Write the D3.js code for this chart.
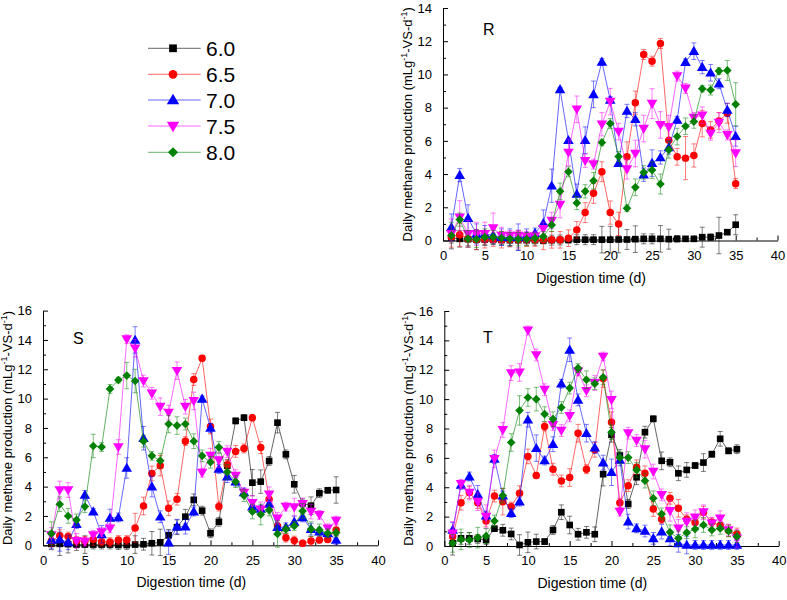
<!DOCTYPE html>
<html><head><meta charset="utf-8">
<script src="https://cdn.jsdelivr.net/npm/d3@7"></script>
<style>body{margin:0;background:#fff;} text{font-family:Arial,"Liberation Sans",sans-serif;}</style>
</head><body><svg id="c" width="787" height="600"></svg>
<script>
const days = [1,2,3,4,5,6,7,8,9,10,11,12,13,14,15,16,17,18,19,20,21,22,23,24,25,26,27,28,29,30,31,32,33,34,35];
const seriesNames = ["6.0","6.5","7.0","7.5","8.0"];
const xTicks = [0,5,10,15,20,25,30,35,40];

// Panel R
const R_60 = [0.15,0.1,0.08,0.05,0.05,0.05,0.03,0.02,0.02,0.02,0.02,0.0,0.02,0.03,0.04,0.05,0.05,0.05,0.05,0.05,0.06,0.06,0.08,0.1,0.1,0.1,0.08,0.1,0.1,0.1,0.2,0.2,0.3,0.5,0.95];
const R_65 = [0.2,0.35,0.1,0.05,0.05,0.05,0.05,0.05,0.05,0.05,0.05,0.05,0.04,0.04,0.14,0.64,1.68,2.84,4.14,1.68,1.0,5.04,8.3,11.2,10.8,11.86,6.04,5.04,4.96,5.12,7.04,6.66,7.2,7.66,3.42];
const R_70 = [0.8,3.94,1.35,0.4,0.4,0.3,0.2,0.2,0.2,0.3,0.45,1.04,3.3,9.1,6.04,2.8,6.04,8.8,10.76,8.46,4.66,7.8,7.3,3.96,4.66,5.0,5.6,7.26,10.74,11.4,10.44,10.1,9.44,7.86,6.28];
const R_75 = [0.4,1.4,0.4,0.4,0.4,0.75,0.3,0.3,0.3,0.25,0.25,0.7,1.2,2.16,5.3,7.9,4.8,4.6,7.0,8.36,6.56,4.3,5.24,6.74,8.24,6.96,6.84,9.9,9.16,7.4,7.54,6.44,7.1,6.36,5.26];
const R_80 = [0.3,1.26,0.1,0.08,0.2,0.2,0.15,0.1,0.08,0.08,0.14,0.24,0.94,2.96,4.14,2.26,2.96,3.6,5.9,7.04,5.06,1.94,3.2,4.1,4.24,3.4,5.46,6.26,6.88,7.16,9.14,9.06,10.2,10.24,8.2];
const R_60e = [0.3,0.5,0.4,0.6,0.3,0.3,0.3,0.4,0.6,0.3,0.3,0.2,0.3,0.3,0.2,0.3,0.3,0.3,0.8,0.8,0.8,0.6,0.8,0.3,0.3,0.8,0.6,0.2,0.1,0.1,0.6,0.2,1.1,0.1,0.6];
const R_65e = [0.6,0.7,0.5,0.6,0.5,0.4,0.5,0.4,0.5,0.4,0.4,0.6,0.5,0.5,0.5,0.5,0.6,0.6,0.6,0.7,0.7,0.9,0.7,0.3,0.3,0.3,0.7,0.5,1.3,0.7,0.8,0.5,0.5,0.6,0.3];
const R_70e = [0.8,0.4,0.8,0.6,0.5,0.5,0.5,0.5,0.8,0.4,0.3,0.8,1.0,0.1,0.1,0.6,0.8,0.8,0.2,0.2,0.2,0.4,0.4,0.4,0.8,0.4,0.4,0.2,0.2,0.5,0.4,0.5,0.3,0.4,0.6];
const R_75e = [0.9,1.0,0.8,0.7,0.7,0.9,0.5,0.3,0.3,0.3,0.3,0.4,0.5,0.8,0.8,0.8,0.4,0.3,0.7,0.8,0.5,0.6,0.8,0.8,0.9,0.8,0.7,0.3,0.3,0.3,0.5,0.4,0.6,0.3,0.8];
const R_80e = [0.8,0.4,0.5,0.5,0.5,0.4,0.4,0.4,0.4,0.4,0.3,0.3,0.4,0.5,0.3,0.4,0.4,0.5,0.2,0.3,0.3,0.2,0.5,0.4,0.5,0.6,0.5,0.5,0.5,0.4,0.2,0.3,0.2,0.6,1.3];

// Panel S
const S_60 = [0.1,0.1,0.08,0.05,0.05,0.05,0.05,0.05,0.02,0.02,0.05,0.07,0.14,0.2,0.68,1.23,1.95,3.1,2.36,0.82,1.6,5.43,8.48,8.7,4.27,4.34,5.75,8.36,6.2,4.16,2.86,2.7,3.55,3.75,3.77];
const S_65 = [0.3,0.66,0.6,0.3,0.3,0.4,0.25,0.22,0.36,0.36,1.18,2.68,4.9,5.43,2.52,3.14,7.1,11.3,12.75,8.1,2.64,5.5,6.4,6.6,8.7,6.66,3.14,1.32,0.52,0.32,0.14,0.3,0.36,0.4,1.05];
const S_70 = [0.36,0.4,0.2,1.45,3.43,2.3,0.75,1.86,1.9,5.27,14.0,7.3,4.0,1.95,0.18,1.27,1.27,2.3,9.98,8.0,5.2,4.68,4.34,3.6,2.64,2.48,2.82,1.23,1.23,1.6,1.9,1.1,0.93,0.82,0.36];
const S_75 = [0.7,3.77,3.77,0.3,0.25,0.7,0.9,1.16,6.7,14.05,13.43,11.2,10.36,9.45,9.05,11.9,9.45,9.84,4.95,6.11,5.8,6.39,4.75,3.6,2.9,2.45,3.48,1.84,2.64,2.6,2.82,2.3,2.07,1.16,1.68];
const S_80 = [0.8,2.8,2.0,1.73,2.64,6.77,6.7,10.66,11.27,11.57,11.2,7.1,6.1,5.77,8.27,8.16,8.27,7.1,6.1,5.66,6.68,5.0,4.34,3.39,2.3,2.1,2.4,0.77,1.1,1.32,2.34,1.1,1.05,0.82,0.86];
const S_60e = [0.4,0.8,0.6,0.4,0.6,0.3,0.3,0.3,0.3,0.3,0.6,0.4,0.8,0.9,0.4,0.5,0.5,0.4,0.3,0.3,0.3,0.4,0.2,0.2,0.9,0.8,0.3,0.7,0.3,0.6,0.3,0.6,0.3,0.2,0.9];
const S_65e = [0.4,0.4,0.3,0.3,0.3,0.4,0.3,0.3,0.3,0.3,1.0,0.6,0.5,0.7,0.5,0.4,0.3,0.4,0.2,0.5,0.3,0.3,0.4,0.3,0.2,0.4,0.4,0.4,0.3,0.3,0.2,0.3,0.2,0.2,0.4];
const S_70e = [0.6,0.8,0.5,0.3,0.3,0.2,0.6,0.6,0.3,0.7,0.9,0.8,0.7,0.4,0.8,0.5,0.5,0.3,0.2,0.3,0.3,0.4,0.3,0.3,0.3,0.2,0.3,0.3,0.3,0.4,0.3,0.4,0.3,0.3,0.3];
const S_75e = [0.5,0.6,0.5,0.5,0.3,0.3,0.3,0.3,0.5,0.3,0.6,0.4,0.4,0.6,0.5,0.6,0.5,0.6,0.3,0.5,0.5,0.4,0.4,0.3,0.5,0.5,0.5,0.4,0.3,0.6,0.4,0.5,0.3,0.3,0.3];
const S_80e = [0.8,0.5,0.5,0.4,0.4,0.8,0.3,0.3,0.2,0.9,0.8,0.4,0.3,0.5,0.6,0.6,0.4,0.5,0.4,0.4,0.4,0.5,0.4,0.4,0.5,0.7,0.4,0.9,0.3,0.3,0.5,0.5,0.4,0.3,0.3];

// Panel T
const T_60 = [0.18,0.52,0.52,0.48,0.41,1.18,1.07,0.82,0.07,0.25,0.3,0.3,1.09,2.3,1.43,0.8,0.93,0.8,4.89,7.57,6.16,2.86,4.68,7.75,8.66,5.8,5.7,4.95,5.18,5.48,5.68,6.25,7.3,6.48,6.59];
const T_65 = [0.64,2.95,3.64,2.95,1.7,3.4,3.02,2.68,3.6,6.1,4.8,8.14,5.23,4.43,4.66,7.68,5.23,6.55,11.4,8.43,2.95,4.11,5.36,4.95,2.52,1.82,3.25,2.57,1.82,1.6,2.3,1.61,1.39,1.05,0.82];
const T_70 = [1.1,4.16,4.73,3.52,2.07,5.93,3.43,2.23,3.02,8.6,6.66,5.82,6.93,11.05,13.36,9.95,7.68,6.7,5.68,5.02,5.86,1.66,1.2,1.02,0.52,0.98,0.52,0.18,0.07,0.07,0.07,0.07,0.07,0.07,0.07];
const T_75 = [0.86,4.23,3.64,3.02,2.0,5.93,7.9,11.77,11.82,14.68,13.0,10.64,8.25,7.86,8.86,11.89,10.57,11.1,12.9,9.95,2.34,7.68,7.18,6.59,5.07,3.48,2.39,1.2,1.66,1.95,2.3,1.55,1.89,1.09,0.52];
const T_80 = [0.18,0.45,0.41,0.57,0.68,1.7,3.43,7.05,9.23,10.11,10.0,8.98,8.64,9.43,10.75,12.11,11.32,11.05,11.48,7.75,6.02,6.02,5.18,4.45,3.25,2.18,0.93,0.52,0.91,1.16,1.43,1.09,1.2,1.02,0.64];
const T_60e = [0.8,0.4,0.4,0.3,0.3,0.1,0.4,0.4,0.7,0.7,0.5,0.2,0.3,0.5,0.6,0.4,0.4,0.5,0.8,0.5,0.4,0.3,0.5,0.4,0.2,0.6,0.3,0.5,0.5,0.2,0.6,0.2,0.5,0.2,0.3];
const T_65e = [0.5,0.5,0.4,0.4,0.4,0.4,0.9,0.3,0.5,0.5,0.2,0.3,0.4,0.4,0.6,0.6,0.3,0.5,0.6,0.7,0.3,0.4,0.5,0.5,0.5,0.3,0.4,0.6,0.3,0.5,0.4,0.3,0.3,0.4,0.4];
const T_70e = [0.5,0.3,0.3,0.6,0.3,0.3,0.3,0.3,0.3,0.5,0.9,0.3,0.5,0.3,0.8,0.4,0.6,0.4,0.5,0.9,0.4,0.5,0.3,0.4,0.4,0.5,0.5,0.6,0.6,0.3,0.3,0.3,0.3,0.3,0.3];
const T_75e = [0.8,0.3,0.5,0.6,0.8,0.6,0.5,0.5,0.6,0.3,0.4,0.4,0.4,0.4,0.4,0.3,0.4,0.5,0.3,0.6,0.3,0.4,0.4,0.6,0.5,0.4,0.7,0.6,0.6,0.5,0.5,0.4,0.5,0.4,0.6];
const T_80e = [0.6,0.7,0.5,0.7,0.5,0.4,0.5,0.6,1.0,0.6,0.8,0.5,0.5,0.4,0.4,0.3,0.6,0.4,0.5,0.5,0.4,0.4,0.5,0.5,0.5,0.4,0.5,0.5,0.4,0.6,0.5,0.4,0.4,0.4,0.4];

const colors = ["#000000","#ff0000","#0000ff","#ff00ff","#008000"];
const svg = d3.select("#c");

function markerPath(i, size){
  if(i===0) return d3.symbol(d3.symbolSquare, size)();
  if(i===1) return d3.symbol(d3.symbolCircle, size)();
  if(i===2) return d3.symbol(d3.symbolTriangle, size*1.1)();
  if(i===3) return d3.symbol(d3.symbolTriangle, size*1.1)();
  return d3.symbol(d3.symbolSquare, size*0.85)();
}
function markerTransform(i,x,y){
  if(i===2) return `translate(${x},${y+0.8})`;
  if(i===3) return `translate(${x},${y-0.8}) rotate(180)`;
  if(i===4) return `translate(${x},${y}) rotate(45)`;
  return `translate(${x},${y})`;
}

const panels = [
  {name:"R", x0:443, x1:777.5, yTop:8, yBot:240.5, yMax:14, lx:483, ly:35,
   vals:[R_60,R_65,R_70,R_75,R_80], errs:[R_60e,R_65e,R_70e,R_75e,R_80e]},
  {name:"S", x0:43, x1:378, yTop:310.6, yBot:545.3, yMax:16, lx:73, ly:344,
   vals:[S_60,S_65,S_70,S_75,S_80], errs:[S_60e,S_65e,S_70e,S_75e,S_80e]},
  {name:"T", x0:444.3, x1:778.7, yTop:311, yBot:546, yMax:16, lx:483, ly:343,
   vals:[T_60,T_65,T_70,T_75,T_80], errs:[T_60e,T_65e,T_70e,T_75e,T_80e]}
];

panels.forEach(p=>{
  const x = d3.scaleLinear().domain([0,40]).range([p.x0,p.x1]);
  const y = d3.scaleLinear().domain([0,p.yMax]).range([p.yBot,p.yTop]);
  const g = svg.append("g");
  const yMajor = d3.range(0,p.yMax+0.1,2);
  const yMinor = d3.range(1,p.yMax,2);
  g.append("g").attr("transform",`translate(${p.x0},0)`)
    .call(d3.axisLeft(y).tickValues(yMajor).tickSizeInner(-5).tickSizeOuter(0).tickPadding(11).tickFormat(d3.format("d")));
  g.append("g").attr("transform",`translate(${p.x0},0)`)
    .call(d3.axisLeft(y).tickValues(yMinor).tickSizeInner(-3).tickSizeOuter(0).tickFormat(""))
    .select(".domain").remove();
  g.append("g").attr("transform",`translate(0,${p.yBot})`)
    .call(d3.axisBottom(x).tickValues(xTicks).tickSizeInner(-5).tickSizeOuter(0).tickPadding(10).tickFormat(d3.format("d")));
  g.append("g").attr("transform",`translate(0,${p.yBot})`)
    .call(d3.axisBottom(x).tickValues(xTicks.slice(0,-1).map(v=>v+2.5)).tickSizeInner(-3).tickSizeOuter(0).tickFormat(""))
    .select(".domain").remove();
  g.selectAll(".domain, .tick line").attr("stroke","#000").attr("stroke-width",1);
  g.selectAll(".tick text").attr("font-size","13px").attr("font-family","Arial,'Liberation Sans',sans-serif").attr("fill","#000");

  g.append("text").attr("x",x(17.7)).attr("y",p.yBot+42).attr("text-anchor","middle")
    .attr("font-size","14px").text("Digestion time (d)");
  const yt = g.append("text").attr("transform",`translate(${p.x0-31},${(p.yTop+p.yBot)/2}) rotate(-90)`)
    .attr("text-anchor","middle").attr("font-size","13px");
  yt.append("tspan").text("Daily methane production (mLg");
  yt.append("tspan").attr("dy",-5).attr("font-size","9px").text("-1");
  yt.append("tspan").attr("dy",5).text("-VS-d");
  yt.append("tspan").attr("dy",-5).attr("font-size","9px").text("-1");
  yt.append("tspan").attr("dy",5).text(")");
  g.append("text").attr("x",p.lx).attr("y",p.ly).attr("font-size","16px").text(p.name);

  p.vals.forEach((vals,i)=>{
    const data = days.map((d,k)=>({d, v:vals[k], e:p.errs[i][k]}));
    const sg = g.append("g");
    const eb = sg.append("g").attr("stroke",colors[i]).attr("stroke-opacity",0.5).attr("stroke-width",1);
    data.forEach(o=>{
      const cx = x(o.d), y1 = y(o.v+o.e), y2 = y(o.v-o.e);
      eb.append("line").attr("x1",cx).attr("x2",cx).attr("y1",y1).attr("y2",y2);
      eb.append("line").attr("x1",cx-2.5).attr("x2",cx+2.5).attr("y1",y1).attr("y2",y1);
      eb.append("line").attr("x1",cx-2.5).attr("x2",cx+2.5).attr("y1",y2).attr("y2",y2);
    });
    sg.append("path").datum(data).attr("fill","none").attr("stroke",colors[i]).attr("stroke-opacity",0.6)
      .attr("stroke-width",1).attr("d",d3.line().x(o=>x(o.d)).y(o=>y(o.v)));
    sg.selectAll("path.m").data(data).enter().append("path").attr("class","m")
      .attr("d",markerPath(i,44)).attr("transform",o=>markerTransform(i,x(o.d),y(o.v)))
      .attr("fill",colors[i]);
  });
});

const lg = svg.append("g");
const legY = [48.3,74.3,100,126,152.3];
seriesNames.forEach((n,i)=>{
  lg.append("line").attr("x1",148).attr("x2",200.7).attr("y1",legY[i]).attr("y2",legY[i])
    .attr("stroke",colors[i]).attr("stroke-opacity",0.6).attr("stroke-width",1);
  lg.append("path").attr("d",markerPath(i,60)).attr("transform",markerTransform(i,173,legY[i])).attr("fill",colors[i]);
  lg.append("text").attr("x",206).attr("y",legY[i]+7.5).attr("font-size","21px").text(n);
});
</script></body></html>
